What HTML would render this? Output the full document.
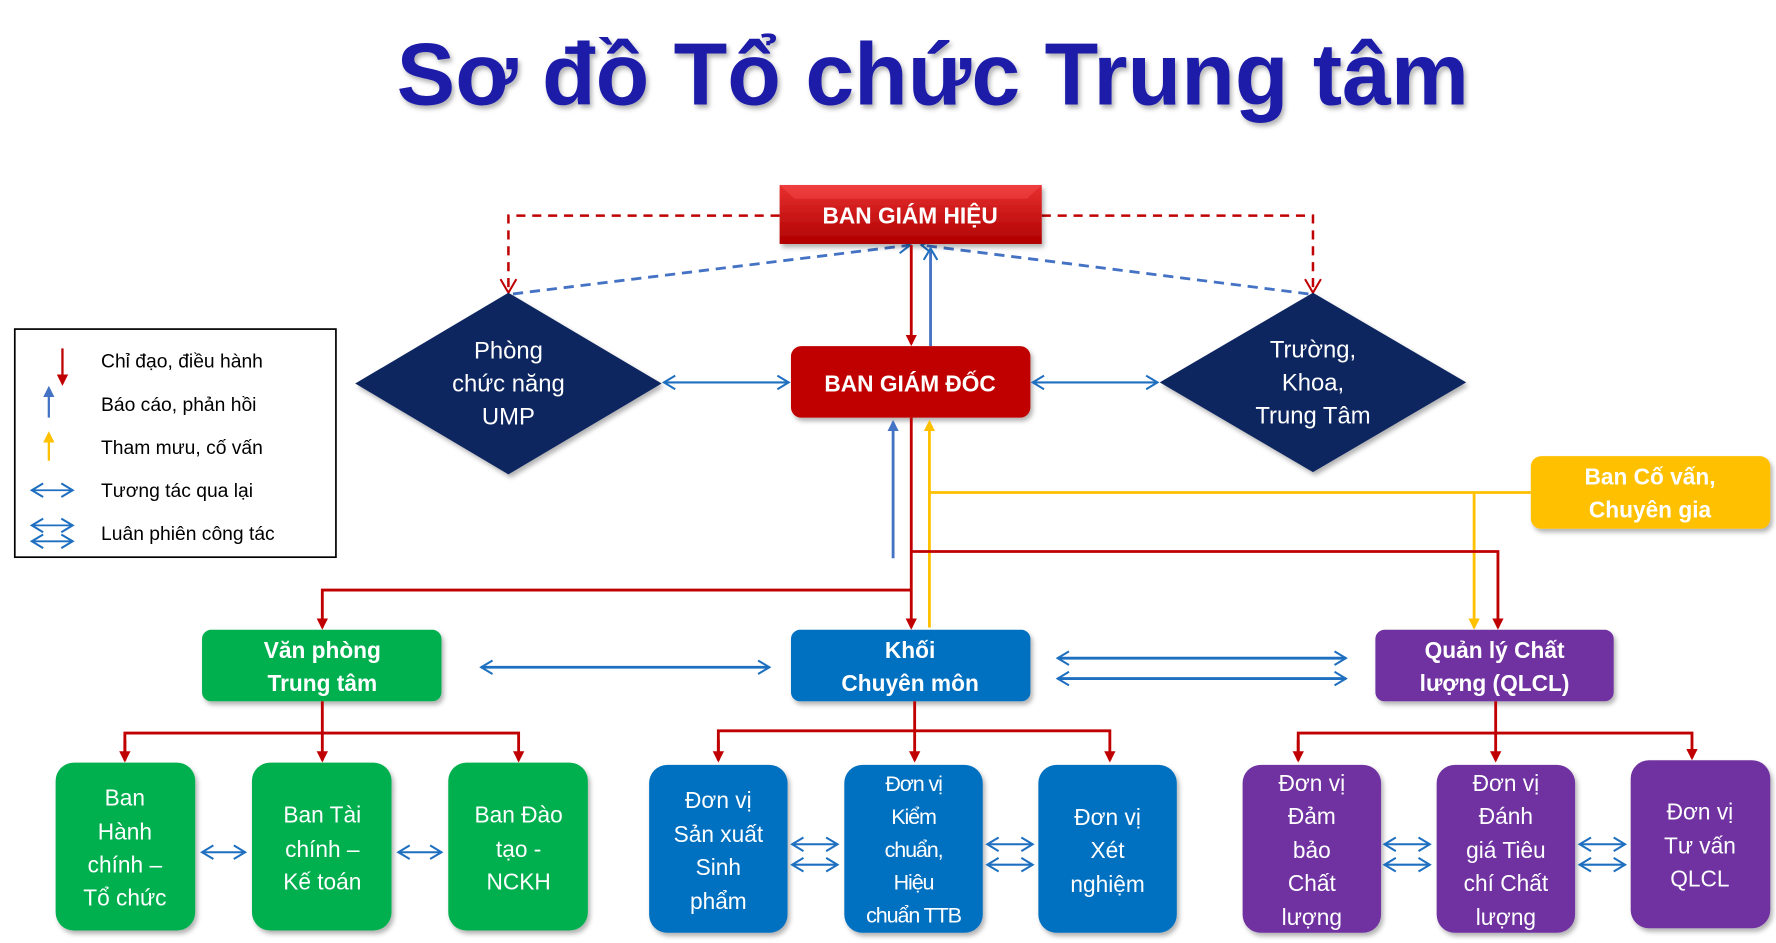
<!DOCTYPE html>
<html><head><meta charset="utf-8">
<style>
html,body{margin:0;padding:0;background:#fff;}
svg{display:block;}
text{font-family:"Liberation Sans","DejaVu Sans",sans-serif;}
</style></head>
<body>
<svg width="1776" height="943" viewBox="0 0 1565 831" xmlns="http://www.w3.org/2000/svg">
<defs>
  <marker id="rd" markerWidth="10" markerHeight="10" refX="8" refY="5" orient="auto" markerUnits="userSpaceOnUse"><path d="M0,0 L10,5 L0,10 z" fill="#c00000"/></marker>
  <marker id="yl" markerWidth="10" markerHeight="10" refX="8" refY="5" orient="auto" markerUnits="userSpaceOnUse"><path d="M0,0 L10,5 L0,10 z" fill="#ffc000"/></marker>
  <marker id="bl" markerWidth="10" markerHeight="10" refX="8" refY="5" orient="auto" markerUnits="userSpaceOnUse"><path d="M0,0 L10,5 L0,10 z" fill="#4472c4"/></marker>
  <marker id="ob" markerWidth="14" markerHeight="14" refX="12" refY="7" orient="auto-start-reverse" markerUnits="userSpaceOnUse"><path d="M2,1 L12,7 L2,13" fill="none" stroke="#1f6fc0" stroke-width="1.8"/></marker>
  <marker id="odr" markerWidth="14" markerHeight="14" refX="7" refY="12" orient="0" markerUnits="userSpaceOnUse"><path d="M1,2 L7,12 L13,2" fill="none" stroke="#c00000" stroke-width="1.6"/></marker>
  <linearGradient id="gr" x1="0" y1="0" x2="0" y2="1"><stop offset="0" stop-color="#e83030"/><stop offset="1" stop-color="#b00000"/></linearGradient>
  <filter id="sh" x="-10%" y="-10%" width="120%" height="130%"><feDropShadow dx="2" dy="3" stdDeviation="2" flood-color="#000" flood-opacity="0.3"/></filter>
</defs>

<!-- title -->
<text x="822" y="92" text-anchor="middle" font-size="78" font-weight="bold" fill="#1a1aa8" textLength="945" lengthAdjust="spacingAndGlyphs" filter="url(#sh)">Sơ đồ Tổ chức Trung tâm</text>

<!-- dashed red -->
<path d="M687,190 H448 V257" fill="none" stroke="#c00000" stroke-width="2.2" stroke-dasharray="8,6"/>
<path d="M918,190 H1157 V257" fill="none" stroke="#c00000" stroke-width="2.2" stroke-dasharray="8,6"/>
<path d="M441,246 L448,258 L455,246" fill="none" stroke="#c00000" stroke-width="1.8"/>
<path d="M1150,246 L1157,258 L1164,246" fill="none" stroke="#c00000" stroke-width="1.8"/>
<!-- dashed blue -->
<line x1="452" y1="259" x2="802" y2="216" stroke="#4472c4" stroke-width="2.5" stroke-dasharray="9,6" marker-end="url(#ob)"/>
<line x1="1153" y1="259" x2="812" y2="216" stroke="#4472c4" stroke-width="2.5" stroke-dasharray="9,6" marker-end="url(#ob)"/>

<!-- BGH -->
<rect x="687" y="163" width="231" height="52" fill="url(#gr)" filter="url(#sh)"/>
<path d="M687,163 L700,175 H905 L918,163 Z" fill="#ff5a5a" opacity="0.35"/>
<text x="802" y="197" text-anchor="middle" font-size="20" font-weight="bold" fill="#fff">BAN GIÁM HIỆU</text>

<!-- BGH-BGD -->
<line x1="803" y1="216" x2="803" y2="303" stroke="#c00000" stroke-width="2.5" marker-end="url(#rd)"/>
<line x1="820" y1="305" x2="820" y2="219" stroke="#4472c4" stroke-width="2.5" marker-end="url(#ob)"/>

<!-- diamonds -->
<polygon points="448,258 583,338 448,418 313,338" fill="#0d2560" filter="url(#sh)"/>
<polygon points="1157,258 1292,337 1157,416 1022,337" fill="#0d2560" filter="url(#sh)"/>
<g font-size="21" fill="#fff" text-anchor="middle">
<text x="448" y="316">Phòng</text><text x="448" y="345">chức năng</text><text x="448" y="374">UMP</text>
<text x="1157" y="315">Trường,</text><text x="1157" y="344">Khoa,</text><text x="1157" y="373">Trung Tâm</text>
</g>

<!-- BGD -->
<rect x="697" y="305" width="211" height="63" rx="9" fill="#c00000" filter="url(#sh)"/>
<text x="802" y="345" text-anchor="middle" font-size="20" font-weight="bold" fill="#fff">BAN GIÁM ĐỐC</text>
<line x1="585" y1="337" x2="695" y2="337" stroke="#1f6fc0" stroke-width="1.8" marker-start="url(#ob)" marker-end="url(#ob)"/>
<line x1="910" y1="337" x2="1020" y2="337" stroke="#1f6fc0" stroke-width="1.8" marker-start="url(#ob)" marker-end="url(#ob)"/>

<!-- below BGD -->
<line x1="787" y1="492" x2="787" y2="372" stroke="#4472c4" stroke-width="2.5" marker-end="url(#bl)"/>
<polyline points="1349,434 819,434" fill="none" stroke="#ffc000" stroke-width="2.5"/>
<line x1="819" y1="553" x2="819" y2="372" stroke="#ffc000" stroke-width="2.5" marker-end="url(#yl)"/>
<line x1="1299" y1="434" x2="1299" y2="553" stroke="#ffc000" stroke-width="2.5" marker-end="url(#yl)"/>
<line x1="803" y1="368" x2="803" y2="553" stroke="#c00000" stroke-width="2.5" marker-end="url(#rd)"/>
<polyline points="803,520 284,520 284,553" fill="none" stroke="#c00000" stroke-width="2.5" marker-end="url(#rd)"/>
<polyline points="803,486 1320,486 1320,553" fill="none" stroke="#c00000" stroke-width="2.5" marker-end="url(#rd)"/>

<!-- Ban co van -->
<rect x="1349" y="402" width="211" height="64" rx="9" fill="#ffc000" filter="url(#sh)"/>
<g font-size="20" font-weight="bold" fill="#fff" text-anchor="middle">
<text x="1454" y="427">Ban Cố vấn,</text><text x="1454" y="456">Chuyên gia</text></g>

<!-- level 2 -->
<rect x="178" y="555" width="211" height="63" rx="8" fill="#00b050" filter="url(#sh)"/>
<rect x="697" y="555" width="211" height="63" rx="8" fill="#0070c0" filter="url(#sh)"/>
<rect x="1212" y="555" width="210" height="63" rx="8" fill="#7030a0" filter="url(#sh)"/>
<g font-size="20" font-weight="bold" fill="#fff" text-anchor="middle">
<text x="284" y="580">Văn phòng</text><text x="284" y="609">Trung tâm</text>
<text x="802" y="580">Khối</text><text x="802" y="609">Chuyên môn</text>
<text x="1317" y="580">Quản lý Chất</text><text x="1317" y="609">lượng (QLCL)</text></g>
<line x1="424" y1="588" x2="678" y2="588" stroke="#1f6fc0" stroke-width="2.5" marker-start="url(#ob)" marker-end="url(#ob)"/>
<line x1="932" y1="580" x2="1186" y2="580" stroke="#1f6fc0" stroke-width="2.5" marker-start="url(#ob)" marker-end="url(#ob)"/>
<line x1="932" y1="598" x2="1186" y2="598" stroke="#1f6fc0" stroke-width="2.5" marker-start="url(#ob)" marker-end="url(#ob)"/>

<!-- level 2->3 connectors -->
<g fill="none" stroke="#c00000" stroke-width="2.5">
<line x1="284" y1="618" x2="284" y2="670" marker-end="url(#rd)"/>
<polyline points="110,670 110,646 457,646 457,670" marker-end="url(#rd)"/>
<line x1="110" y1="652" x2="110" y2="670" marker-end="url(#rd)"/>
<line x1="806" y1="618" x2="806" y2="670" marker-end="url(#rd)"/>
<polyline points="633,670 633,644 978,644 978,670" marker-end="url(#rd)"/>
<line x1="633" y1="652" x2="633" y2="670" marker-end="url(#rd)"/>
<line x1="1318" y1="618" x2="1318" y2="670" marker-end="url(#rd)"/>
<polyline points="1144,670 1144,646 1491,646 1491,668" marker-end="url(#rd)"/>
<line x1="1144" y1="652" x2="1144" y2="670" marker-end="url(#rd)"/>
</g>

<!-- level 3 boxes -->
<g filter="url(#sh)">
<rect x="49" y="672" width="123" height="148" rx="16" fill="#00b050"/>
<rect x="222" y="672" width="123" height="148" rx="16" fill="#00b050"/>
<rect x="395" y="672" width="123" height="148" rx="16" fill="#00b050"/>
<rect x="572" y="674" width="122" height="148" rx="16" fill="#0070c0"/>
<rect x="744" y="674" width="122" height="148" rx="16" fill="#0070c0"/>
<rect x="915" y="674" width="122" height="148" rx="16" fill="#0070c0"/>
<rect x="1095" y="674" width="122" height="148" rx="16" fill="#7030a0"/>
<rect x="1266" y="674" width="122" height="148" rx="16" fill="#7030a0"/>
<rect x="1437" y="670" width="123" height="148" rx="16" fill="#7030a0"/>
</g>
<g font-size="20" fill="#fff" text-anchor="middle">
<text x="110" y="710">Ban</text><text x="110" y="740">Hành</text><text x="110" y="769">chính –</text><text x="110" y="798">Tổ chức</text>
<text x="284" y="725">Ban Tài</text><text x="284" y="755">chính –</text><text x="284" y="784">Kế toán</text>
<text x="457" y="725">Ban Đào</text><text x="457" y="755">tạo -</text><text x="457" y="784">NCKH</text>
<text x="633" y="712">Đơn vị</text><text x="633" y="742">Sản xuất</text><text x="633" y="771">Sinh</text><text x="633" y="801">phẩm</text>
<g font-size="19" letter-spacing="-1"><text x="805" y="697">Đơn vị</text><text x="805" y="726">Kiểm</text><text x="805" y="755">chuẩn,</text><text x="805" y="784">Hiệu</text><text x="805" y="813">chuẩn TTB</text></g>
<text x="976" y="727">Đơn vị</text><text x="976" y="756">Xét</text><text x="976" y="786">nghiệm</text>
<text x="1156" y="697">Đơn vị</text><text x="1156" y="726">Đảm</text><text x="1156" y="756">bảo</text><text x="1156" y="785">Chất</text><text x="1156" y="815">lượng</text>
<text x="1327" y="697">Đơn vị</text><text x="1327" y="726">Đánh</text><text x="1327" y="756">giá Tiêu</text><text x="1327" y="785">chí Chất</text><text x="1327" y="815">lượng</text>
<text x="1498" y="722">Đơn vị</text><text x="1498" y="752">Tư vấn</text><text x="1498" y="781">QLCL</text>
</g>

<!-- level 3 small arrows -->
<g stroke="#1f6fc0" stroke-width="1.8">
<line x1="178" y1="751" x2="216" y2="751" marker-start="url(#ob)" marker-end="url(#ob)"/>
<line x1="351" y1="751" x2="389" y2="751" marker-start="url(#ob)" marker-end="url(#ob)"/>
<line x1="698" y1="744" x2="738" y2="744" marker-start="url(#ob)" marker-end="url(#ob)"/>
<line x1="698" y1="762" x2="738" y2="762" marker-start="url(#ob)" marker-end="url(#ob)"/>
<line x1="870" y1="744" x2="910" y2="744" marker-start="url(#ob)" marker-end="url(#ob)"/>
<line x1="870" y1="762" x2="910" y2="762" marker-start="url(#ob)" marker-end="url(#ob)"/>
<line x1="1220" y1="744" x2="1260" y2="744" marker-start="url(#ob)" marker-end="url(#ob)"/>
<line x1="1220" y1="762" x2="1260" y2="762" marker-start="url(#ob)" marker-end="url(#ob)"/>
<line x1="1392" y1="744" x2="1432" y2="744" marker-start="url(#ob)" marker-end="url(#ob)"/>
<line x1="1392" y1="762" x2="1432" y2="762" marker-start="url(#ob)" marker-end="url(#ob)"/>
</g>

<!-- legend -->
<rect x="13" y="290" width="283" height="201" fill="#fff" stroke="#000" stroke-width="1.5"/>
<line x1="55" y1="307" x2="55" y2="338" stroke="#c00000" stroke-width="2" marker-end="url(#rd)"/>
<line x1="43" y1="368" x2="43" y2="342" stroke="#4472c4" stroke-width="2" marker-end="url(#bl)"/>
<line x1="43" y1="406" x2="43" y2="382" stroke="#ffc000" stroke-width="2" marker-end="url(#yl)"/>
<g stroke="#1f6fc0" stroke-width="1.6">
<line x1="28" y1="432" x2="64" y2="432" marker-start="url(#ob)" marker-end="url(#ob)"/>
<line x1="28" y1="463" x2="64" y2="463" marker-start="url(#ob)" marker-end="url(#ob)"/>
<line x1="28" y1="477" x2="64" y2="477" marker-start="url(#ob)" marker-end="url(#ob)"/>
</g>
<g font-size="17" fill="#000">
<text x="89" y="324">Chỉ đạo, điều hành</text>
<text x="89" y="362">Báo cáo, phản hồi</text>
<text x="89" y="400">Tham mưu, cố vấn</text>
<text x="89" y="438">Tương tác qua lại</text>
<text x="89" y="476">Luân phiên công tác</text>
</g>
</svg>
</body></html>
